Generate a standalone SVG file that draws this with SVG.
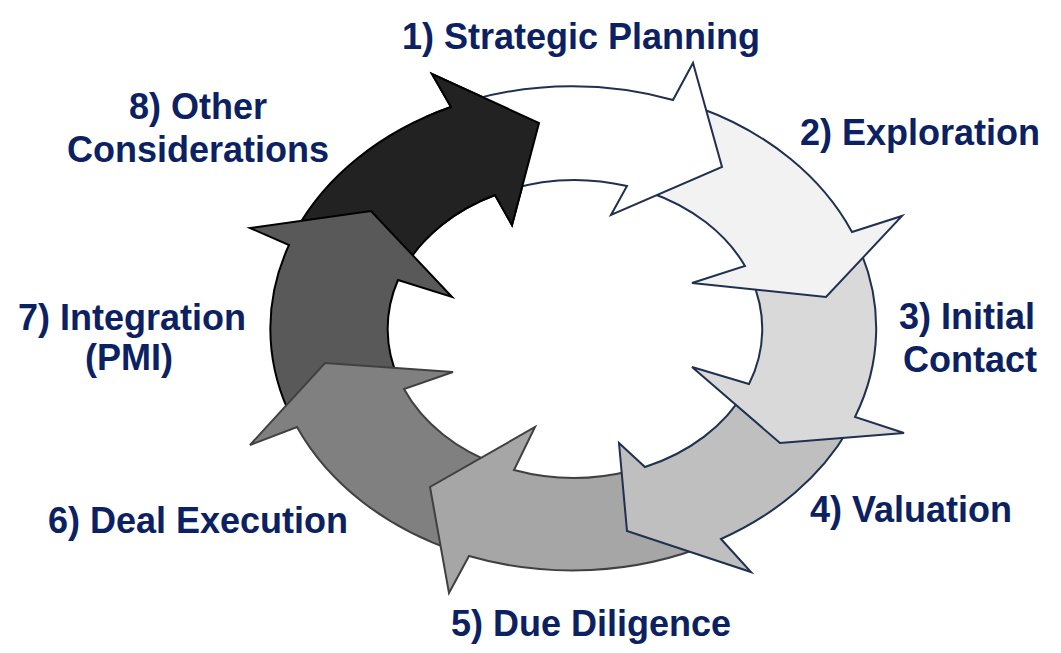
<svg xmlns="http://www.w3.org/2000/svg" width="1061" height="653" viewBox="0 0 1061 653">
<style>
.lbl{font-family:"Liberation Sans",Arial,sans-serif;font-weight:bold;font-size:36px;fill:#0B2161;text-anchor:middle}
.arr{stroke-width:2;stroke-linejoin:miter}
.nv{stroke:#1F3050}
.gy{stroke:#404040}
.bk{stroke:#000000}
</style>
<defs>
<clipPath id="c8"><rect x="425" y="50" width="135" height="200"/></clipPath>
</defs>
<rect width="1061" height="653" fill="#ffffff"/>
<g id="connectors"></g>
<g id="stage8"><path id="a8" class="arr bk" fill="#222222" d="M 295 232 A 303 242 0 0 1 451 107 L 432 74 L 539 123 L 512 225 L 495 195 A 187 149 0 0 0 405 267 Z"/></g>
<g id="stage7"><path id="a7" class="arr bk" fill="#595959" d="M 288 410 A 303 242 0 0 1 289 245 L 250 228 L 371 211 L 452 297 L 398 280 A 187 149 0 0 0 399 380 Z"/></g>
<g id="stage6"><path id="a6" class="arr gy" fill="#808080" d="M 455 551 A 303 242 0 0 1 297 427 L 250 445 L 325 363 L 453 372 L 404 389 A 187 149 0 0 0 500 465.5 Z"/></g>
<g id="stage5"><path id="a5" class="arr gy" fill="#A6A6A6" d="M 710 544 A 303 242 0 0 1 469 556 L 449 593 L 430 487 L 535 427 L 514 470 A 187 149 0 0 0 630 471 Z"/></g>
<g id="stage4"><path id="a4" class="arr nv" fill="#BFBFBF" d="M 848 430 A 303 242 0 0 1 721 539 L 751 572 L 627 531 L 619 443 L 645 467 A 187 149 0 0 0 745 391 Z"/></g>
<g id="stage3"><path id="a3" class="arr nv" fill="#D9D9D9" d="M 860 250 A 303 242 0 0 1 855 417 L 904 433 L 780 443 L 692 367 L 749 384 A 187 149 0 0 0 751 278 Z"/></g>
<g id="stage2"><path id="a2" class="arr nv" fill="#F2F2F2" d="M 700 108 A 303 242 0 0 1 852 232 L 902 216 L 826 297 L 692 283 L 745 266 A 187 149 0 0 0 650 192.5 Z"/></g>
<g id="stage1"><path id="a1" class="arr nv" fill="#FFFFFF" d="M 470 100.4 A 303 242 0 0 1 673 100 L 693 63 L 722 167 L 611 215 L 627 186 A 187 149 0 0 0 510 189.3 Z"/></g>
<g id="stage8-head"><use href="#a8" clip-path="url(#c8)"/></g>
<g id="labels">
<text class="lbl" x="581" y="49">1) Strategic Planning</text>
<text class="lbl" x="920" y="145">2) Exploration</text>
<text class="lbl" x="967" y="329">3) Initial</text>
<text class="lbl" x="970" y="372">Contact</text>
<text class="lbl" x="911" y="522">4) Valuation</text>
<text class="lbl" x="591" y="636">5) Due Diligence</text>
<text class="lbl" x="198" y="533">6) Deal Execution</text>
<text class="lbl" x="132" y="330">7) Integration</text>
<text class="lbl" x="129" y="370">(PMI)</text>
<text class="lbl" x="198" y="119">8) Other</text>
<text class="lbl" x="198" y="162">Considerations</text>
</g>
</svg>
